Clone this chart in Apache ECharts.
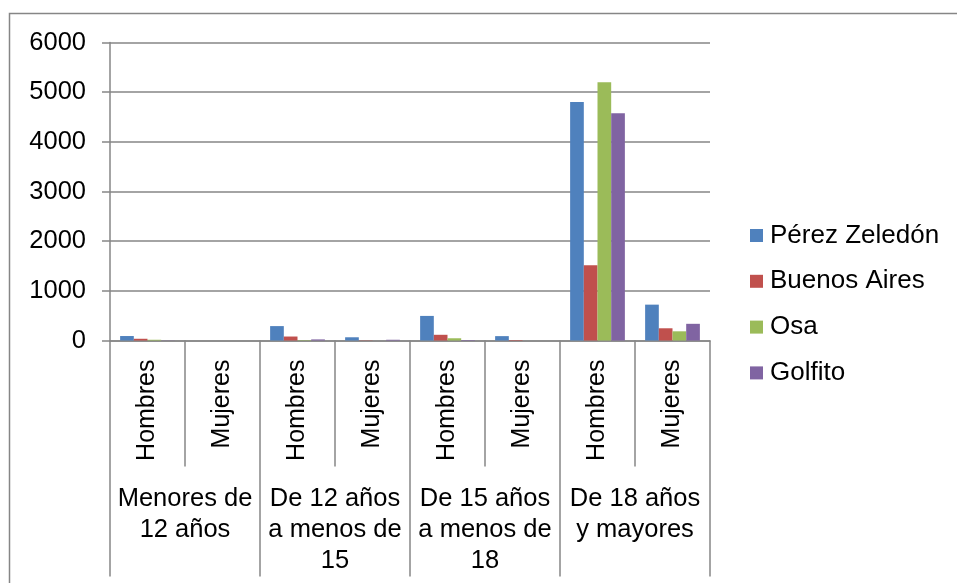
<!DOCTYPE html>
<html>
<head>
<meta charset="utf-8">
<script src="https://cdn.jsdelivr.net/npm/echarts@6/dist/echarts.min.js"></script>
<style>
  html, body { margin: 0; padding: 0; background: #fff; }
  #chart { width: 957px; height: 583px; }
</style>
</head>
<body>
<div id="chart"></div>
<script>
// Sex categories (inner axis) and age groups (outer axis)
const sexLabels = ['Hombres', 'Mujeres', 'Hombres', 'Mujeres', 'Hombres', 'Mujeres', 'Hombres', 'Mujeres'];
const ageGroups = ['Menores de\n12 años', 'De 12 años\na menos de\n15', 'De 15 años\na menos de\n18', 'De 18 años\ny mayores'];

// Values per canton, in the order of sexLabels
const perezZeledon = [90, 0, 290, 65, 495, 88, 4800, 722];
const buenosAires  = [35, 0, 80, 5, 115, 10, 1515, 246];
const osa          = [15, 0, 8, 0, 45, 0, 5200, 185];
const golfito      = [3, 0, 22, 15, 10, 0, 4578, 336];

const yTicks = { min: 0, max: 6000, interval: 1000 };

const GREY = '#868686';
const FONT = '"Liberation Sans", Arial, sans-serif';

const seriesDefs = [
  { name: 'Pérez Zeledón', data: perezZeledon, color: '#4F81BD' },
  { name: 'Buenos Aires',  data: buenosAires,  color: '#C0504D' },
  { name: 'Osa',           data: osa,          color: '#9BBB59' },
  { name: 'Golfito',       data: golfito,      color: '#8064A2' }
];

const chart = echarts.init(document.getElementById('chart'), null, { renderer: 'canvas' });

chart.setOption({
  animation: false,
  backgroundColor: '#fff',
  textStyle: { fontFamily: FONT, color: '#000' },
  graphic: [{
    type: 'rect',
    shape: { x: 9.5, y: 13.5, width: 980, height: 620 },
    style: { fill: 'none', stroke: GREY, lineWidth: 1.5 },
    silent: true,
    z: -1
  }],
  grid: { left: 110, right: 247, top: 42.5, bottom: 242.5, containLabel: false },
  legend: {
    orient: 'vertical',
    left: 750,
    top: 222.5,
    padding: 0,
    itemWidth: 13,
    itemHeight: 13,
    itemGap: 19.8,
    icon: 'rect',
    textStyle: { fontFamily: FONT, fontSize: 26, color: '#000', padding: [0, 0, 0, 2] },
    data: seriesDefs.map(s => s.name)
  },
  xAxis: [{
    type: 'category',
    data: sexLabels,
    position: 'bottom',
    axisLine: { show: true, lineStyle: { color: GREY, width: 1.5 } },
    axisTick: { show: true, interval: 0, length: 126, lineStyle: { color: GREY, width: 1.5 } },
    axisLabel: {
      interval: 0, rotate: 90, margin: 19,
      fontFamily: FONT, fontSize: 25, color: '#000'
    },
    splitLine: { show: false }
  }, {
    type: 'category',
    data: ageGroups,
    position: 'bottom',
    axisLine: { show: false },
    axisTick: { show: true, interval: 0, length: 236, lineStyle: { color: GREY, width: 1.5 } },
    axisLabel: {
      interval: 0, margin: 143, lineHeight: 31,
      fontFamily: FONT, fontSize: 25.5, color: '#000', align: 'center', verticalAlign: 'top'
    },
    splitLine: { show: false }
  }],
  yAxis: {
    type: 'value',
    min: yTicks.min, max: yTicks.max, interval: yTicks.interval,
    axisLine: { show: true, lineStyle: { color: GREY, width: 1.5 } },
    axisTick: { show: true, length: 8, lineStyle: { color: GREY, width: 1.5 } },
    axisLabel: {
      margin: 24, fontFamily: FONT, fontSize: 25.5, color: '#000',
      formatter: v => String(v)
    },
    splitLine: { show: true, lineStyle: { color: GREY, width: 1.5 } }
  },
  series: seriesDefs.map(s => ({
    type: 'bar',
    name: s.name,
    xAxisIndex: 0,
    data: s.data,
    barGap: '0%',
    barCategoryGap: '27%',
    itemStyle: { color: s.color }
  }))
});
</script>
</body>
</html>
